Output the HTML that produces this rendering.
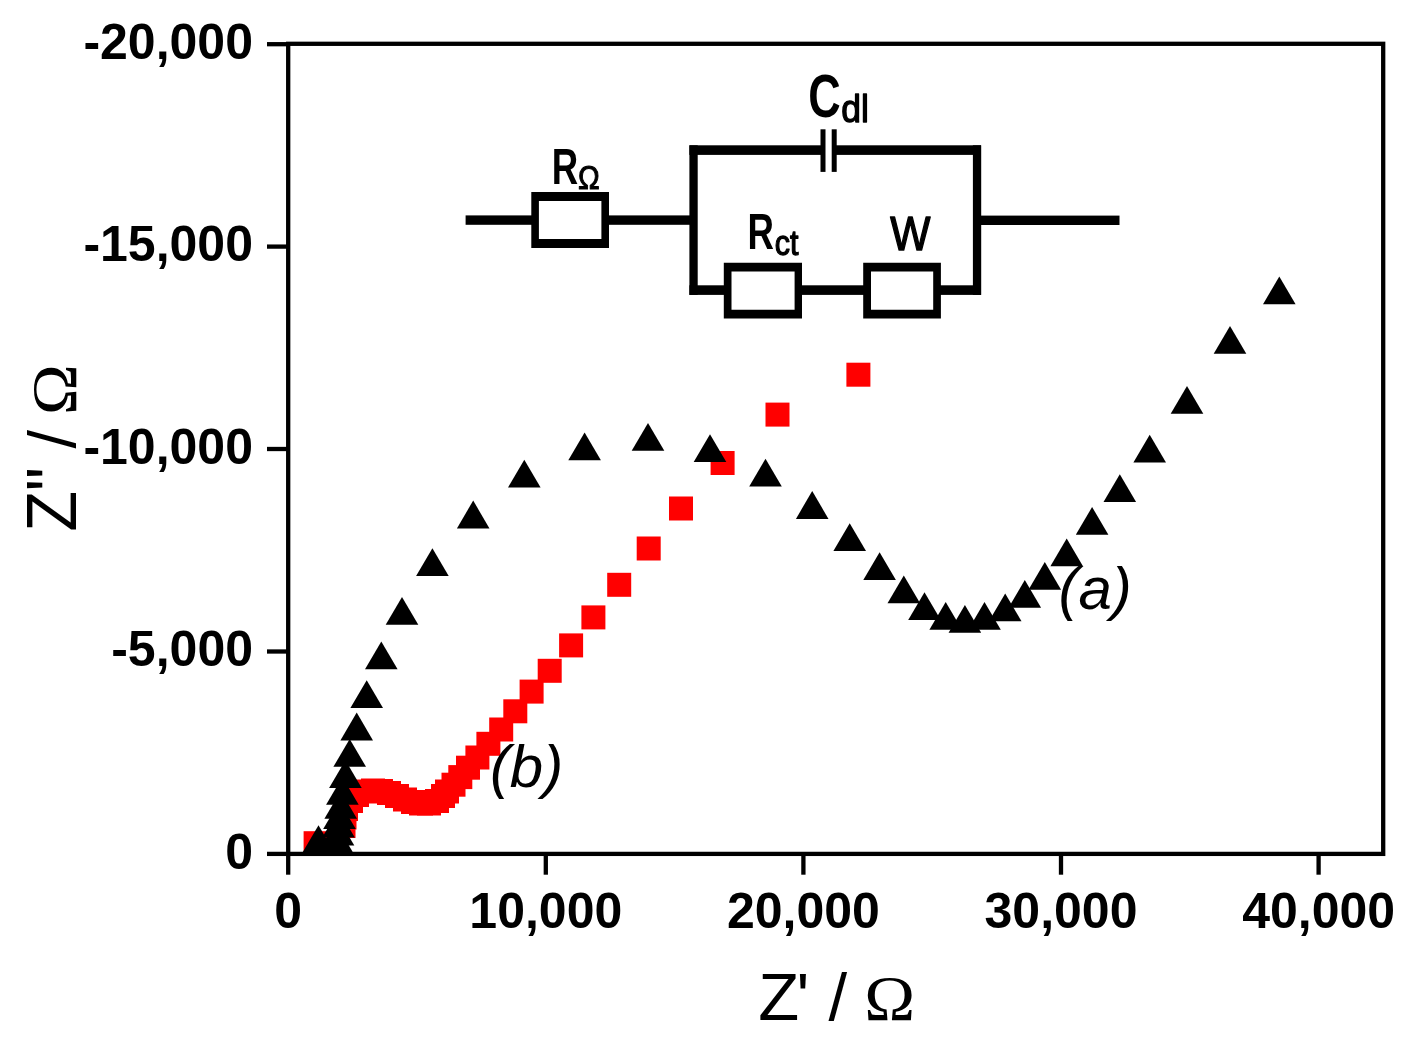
<!DOCTYPE html>
<html><head><meta charset="utf-8"><title>Nyquist plot</title>
<style>
html,body{margin:0;padding:0;background:#fff;}
body{width:1409px;height:1041px;overflow:hidden;font-family:"Liberation Sans",sans-serif;}
svg{display:block;filter:blur(0.45px);}
.tk text{font-family:"Liberation Sans",sans-serif;font-weight:bold;font-size:50px;fill:#000;}
.tk line{stroke:#000;stroke-width:4.3;}
.ax{font-family:"Liberation Sans",sans-serif;font-size:67px;fill:#000;}
.om{font-family:"Liberation Serif",serif;font-size:64px;}
.lab{font-family:"Liberation Sans",sans-serif;font-style:italic;font-size:60px;fill:#000;}
.ck{font-family:"Liberation Sans",sans-serif;font-weight:bold;fill:#000;}
.ck .sb{font-weight:normal;stroke:#000;stroke-linejoin:round;}
</style></head><body>
<svg width="1409" height="1041" viewBox="0 0 1409 1041">
<rect width="1409" height="1041" fill="#fff"/>
<!-- data -->
<g fill="#ff0000"><rect x="303.6" y="831.2" width="24" height="24"/><rect x="331.5" y="814.0" width="24" height="24"/><rect x="332.5" y="805.5" width="24" height="24"/><rect x="334.0" y="797.0" width="24" height="24"/><rect x="339.0" y="789.0" width="24" height="24"/><rect x="345.0" y="783.0" width="24" height="24"/><rect x="353.0" y="779.5" width="24" height="24"/><rect x="361.0" y="778.5" width="24" height="24"/><rect x="369.0" y="779.0" width="24" height="24"/><rect x="377.0" y="781.0" width="24" height="24"/><rect x="385.0" y="784.0" width="24" height="24"/><rect x="393.0" y="787.5" width="24" height="24"/><rect x="401.0" y="790.0" width="24" height="24"/><rect x="409.0" y="791.5" width="24" height="24"/><rect x="417.0" y="791.5" width="24" height="24"/><rect x="425.0" y="789.0" width="24" height="24"/><rect x="431.0" y="784.0" width="24" height="24"/><rect x="435.0" y="779.5" width="24" height="24"/><rect x="441.5" y="772.7" width="24" height="24"/><rect x="448.3" y="765.1" width="24" height="24"/><rect x="456.0" y="755.7" width="24" height="24"/><rect x="465.4" y="745.5" width="24" height="24"/><rect x="476.4" y="731.8" width="24" height="24"/><rect x="489.2" y="717.5" width="24" height="24"/><rect x="503.3" y="699.3" width="24" height="24"/><rect x="519.6" y="679.6" width="24" height="24"/><rect x="537.7" y="658.8" width="24" height="24"/><rect x="559.1" y="633.4" width="24" height="24"/><rect x="581.4" y="605.4" width="24" height="24"/><rect x="607.2" y="572.8" width="24" height="24"/><rect x="636.7" y="536.5" width="24" height="24"/><rect x="669.0" y="496.5" width="24" height="24"/><rect x="710.6" y="451.0" width="24" height="24"/><rect x="765.5" y="402.6" width="24" height="24"/><rect x="846.4" y="362.7" width="24" height="24"/></g>
<g fill="#000"><path d="M302.2 853.0L318.5 825.2L334.8 853.0Z"/><path d="M320.7 853.0L337.0 825.2L353.3 853.0Z"/><path d="M321.7 845.5L338.0 817.7L354.3 845.5Z"/><path d="M322.2 837.5L338.5 809.7L354.8 837.5Z"/><path d="M323.2 829.0L339.5 801.2L355.8 829.0Z"/><path d="M324.4 818.8L340.7 791.0L357.0 818.8Z"/><path d="M326.1 804.7L342.4 776.9L358.7 804.7Z"/><path d="M329.1 788.1L345.4 760.3L361.7 788.1Z"/><path d="M333.4 766.8L349.7 739.0L366.0 766.8Z"/><path d="M340.4 740.4L356.7 712.6L373.0 740.4Z"/><path d="M350.4 708.0L366.7 680.2L383.0 708.0Z"/><path d="M365.0 669.3L381.3 641.5L397.6 669.3Z"/><path d="M385.7 624.7L402.0 596.9L418.3 624.7Z"/><path d="M416.1 576.1L432.4 548.3L448.7 576.1Z"/><path d="M456.9 528.4L473.2 500.6L489.5 528.4Z"/><path d="M508.0 487.6L524.3 459.8L540.6 487.6Z"/><path d="M568.3 460.3L584.6 432.5L600.9 460.3Z"/><path d="M631.7 450.8L648.0 423.0L664.3 450.8Z"/><path d="M693.7 462.0L710.0 434.2L726.3 462.0Z"/><path d="M749.2 486.5L765.5 458.7L781.8 486.5Z"/><path d="M795.9 518.9L812.2 491.1L828.5 518.9Z"/><path d="M833.4 551.1L849.7 523.3L866.0 551.1Z"/><path d="M863.3 580.0L879.6 552.2L895.9 580.0Z"/><path d="M887.5 603.2L903.8 575.4L920.1 603.2Z"/><path d="M908.2 620.1L924.5 592.3L940.8 620.1Z"/><path d="M929.4 629.7L945.7 601.9L962.0 629.7Z"/><path d="M948.6 632.8L964.9 605.0L981.2 632.8Z"/><path d="M968.2 629.7L984.5 601.9L1000.8 629.7Z"/><path d="M988.9 621.3L1005.2 593.5L1021.5 621.3Z"/><path d="M1008.5 607.8L1024.8 580.0L1041.1 607.8Z"/><path d="M1028.5 589.7L1044.8 561.9L1061.1 589.7Z"/><path d="M1050.4 566.3L1066.7 538.5L1083.0 566.3Z"/><path d="M1075.8 534.8L1092.1 507.0L1108.4 534.8Z"/><path d="M1103.5 502.1L1119.8 474.3L1136.1 502.1Z"/><path d="M1133.4 462.5L1149.7 434.7L1166.0 462.5Z"/><path d="M1170.7 413.7L1187.0 385.9L1203.3 413.7Z"/><path d="M1213.7 353.8L1230.0 326.0L1246.3 353.8Z"/><path d="M1263.0 304.2L1279.3 276.4L1295.6 304.2Z"/></g>
<!-- frame -->
<rect x="288.2" y="43.8" width="1095.0" height="810.1" fill="none" stroke="#000" stroke-width="4.3"/>
<g class="tk"><line x1="288.2" y1="853.9" x2="288.2" y2="874.7"/><text x="288.2" y="927.5" text-anchor="middle">0</text><line x1="545.8" y1="853.9" x2="545.8" y2="874.7"/><text x="545.8" y="927.5" text-anchor="middle">10,000</text><line x1="803.4" y1="853.9" x2="803.4" y2="874.7"/><text x="803.4" y="927.5" text-anchor="middle">20,000</text><line x1="1061.0" y1="853.9" x2="1061.0" y2="874.7"/><text x="1061.0" y="927.5" text-anchor="middle">30,000</text><line x1="1318.6" y1="853.9" x2="1318.6" y2="874.7"/><text x="1318.6" y="927.5" text-anchor="middle">40,000</text><line x1="267" y1="853.9" x2="288.2" y2="853.9"/><text x="253" y="868.7" text-anchor="end">0</text><line x1="267" y1="651.5" x2="288.2" y2="651.5"/><text x="253" y="666.3" text-anchor="end">-5,000</text><line x1="267" y1="449.0" x2="288.2" y2="449.0"/><text x="253" y="463.8" text-anchor="end">-10,000</text><line x1="267" y1="246.6" x2="288.2" y2="246.6"/><text x="253" y="261.4" text-anchor="end">-15,000</text><line x1="267" y1="44.2" x2="288.2" y2="44.2"/><text x="253" y="59.0" text-anchor="end">-20,000</text></g>
<!-- axis titles -->
<g class="ax"><text x="758.3" y="1019.8">Z</text><text x="796.5" y="1019.8">'</text><text x="828.6" y="1019.8">/</text><text class="om" transform="translate(864.2,1019.8) scale(1.07,1)">Ω</text></g>
<g class="ax" transform="translate(75.7,531.8) rotate(-90)"><text transform="scale(1,1.05)" x="0" y="0">Z</text><text transform="scale(1,1.05)" x="40.9" y="0">"</text><text x="83.3" y="-0.6">/</text><text class="om" transform="translate(116.9,0) scale(1.07,1)">Ω</text></g>
<!-- curve labels -->
<text class="lab" x="1058.5" y="608.5">(a)</text>
<text class="lab" x="489.9" y="787">(b)</text>
<!-- circuit -->
<g fill="#000">
<!-- horizontal wires -->
<rect x="465.6" y="215.4" width="70" height="9.4"/>
<rect x="605" y="215.4" width="89" height="9.4"/>
<rect x="977" y="215.6" width="142.5" height="9.4"/>
<rect x="689.4" y="145.3" width="133" height="9.6"/>
<rect x="834" y="145.3" width="147" height="9.6"/>
<rect x="689.4" y="285.3" width="38" height="9.6"/>
<rect x="798" y="285.3" width="69" height="9.6"/>
<rect x="937" y="285.3" width="44" height="9.6"/>
<!-- vertical wires -->
<rect x="689.4" y="145.3" width="8.3" height="149.6"/>
<rect x="972.9" y="145.3" width="8.3" height="149.6"/>
<!-- capacitor plates -->
<rect x="820.5" y="129.3" width="5" height="42.6"/>
<rect x="831.7" y="129.3" width="5" height="42.6"/>
<!-- boxes -->
<path fill-rule="evenodd" d="M531.3 192.1H609V248H531.3ZM538.9 201V238.9H601.4V201Z"/>
<path fill-rule="evenodd" d="M723.8 262.7H802V318.6H723.8ZM731.5 271.6V309.7H794.6V271.6Z"/>
<path fill-rule="evenodd" d="M863.2 262.7H940.9V318.6H863.2ZM871 271.6V309.7H933.2V271.6Z"/>
</g>
<g class="ck">
<text transform="translate(551.8,183.8) scale(0.74,1)" font-size="49.5">R</text>
<text class="sb" transform="translate(578,189) scale(0.87,1)" font-size="33.4" stroke-width="1">Ω</text>
<text transform="translate(747.4,249) scale(0.74,1)" font-size="49.5">R</text>
<text class="sb" transform="translate(774.8,254.7) scale(0.86,1)" font-size="35.5" stroke-width="1.3">ct</text>
<text class="sb" transform="translate(890.3,249.8) scale(0.89,1)" font-size="47.8" stroke-width="1.4">W</text>
<text transform="translate(808.3,117) scale(0.736,1)" font-size="61">C</text>
<text class="sb" transform="translate(841.3,122) scale(0.91,1)" font-size="39" stroke-width="1.3">dl</text>
</g>
</svg>
</body></html>
